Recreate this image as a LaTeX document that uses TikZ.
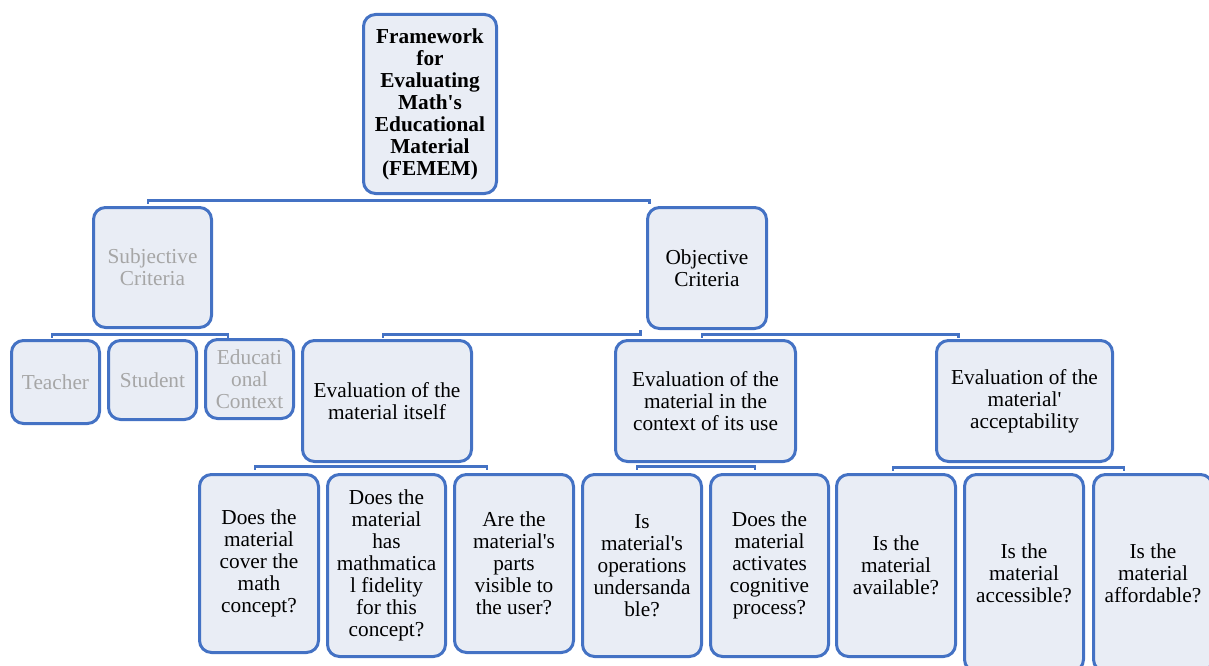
\documentclass[tikz,border=0pt]{standalone}
\usepackage{fontspec}
\setmainfont{Liberation Serif}[Ligatures=TeXOff]
\usepackage{tikz}
\usetikzlibrary{calc}
\definecolor{boxblue}{HTML}{4472C4}
\definecolor{boxfill}{HTML}{E9EDF5}
\definecolor{subgray}{HTML}{A6A6A6}
\tikzset{
  crit/.style={draw=boxblue, fill=boxfill, line width=3pt, rounded corners=12pt,
    align=center, inner sep=2pt, font=\fontsize{21.3}{22}\selectfont},
  conn/.style={draw=boxblue, line width=2.5pt},
}

\begin{document}
\begin{tikzpicture}[x=1pt,y=-1pt]
			\useasboundingbox (0,0) rectangle (1209,666);
			\clip (0,0) rectangle (1209,666);
			% top
			\node[crit, minimum width=133pt, minimum height=179pt, font=\fontsize{21.3}{22}\selectfont\bfseries] (femem) at (430,104)
			  {Framework\\for\\Evaluating\\Math's\\Educational\\Material\\(FEMEM)};
			% criteria
			\node[crit, text=subgray, minimum width=118pt, minimum height=120pt] (subj) at (152.5,267.5) {Subjective\\Criteria};
			\node[crit, minimum width=119pt, minimum height=121pt] (obj) at (707,268) {Objective\\Criteria};
			\node[crit, text=subgray, minimum width=88pt, minimum height=83pt] (teacher) at (55.5,382) {Teacher};
			\node[crit, text=subgray, minimum width=88pt, minimum height=79pt] (student) at (152.5,380) {Student};
			\node[crit, text=subgray, minimum width=88pt, minimum height=79pt] (educ) at (249.5,379) {Educati\\onal\\Context};
			% evaluations
			\node[crit, minimum width=169pt, minimum height=121pt] (itself) at (387,401) {Evaluation of the\\material itself};
			\node[crit, minimum width=180pt, minimum height=121pt] (context) at (705.5,401) {Evaluation of the\\material in the\\context of its use};
			\node[crit, minimum width=176pt, minimum height=121pt] (accept) at (1024.5,401) {Evaluation of the\\material'\\acceptability};
			% questions
			\node[crit, minimum width=119pt, minimum height=178pt] (q1) at (259,563.5) {Does the\\material\\cover the\\math\\concept?};
			\node[crit, minimum width=118pt, minimum height=182pt] (q2) at (386.5,565.5) {Does the\\material\\has\\mathmatica\\l fidelity\\for this\\concept?};
			\node[crit, minimum width=119pt, minimum height=178pt] (q3) at (514,563.5) {Are the\\material's\\parts\\visible to\\the user?};
			\node[crit, minimum width=119pt, minimum height=182pt] (q4) at (642,565.5) {Is\\material's\\operations\\undersanda\\ble?};
			\node[crit, minimum width=118pt, minimum height=182pt] (q5) at (769.5,565.5) {Does the\\material\\activates\\cognitive\\process?};
			\node[crit, minimum width=119pt, minimum height=182pt] (q6) at (896,565.5) {Is the\\material\\available?};
			\node[crit, minimum width=119pt, minimum height=197pt] (q7) at (1024,573) {Is the\\material\\accessible?};
			\node[crit, minimum width=119pt, minimum height=197pt] (q8) at (1153,573) {Is the\\material\\affordable?};
			% connectors
			\draw[conn] ($(subj.north |- femem.south)+(-4.5,8.5)$) -- ++(0,-3) -| ($(obj.north west |- femem.south)+(3.5,8.5)$);
			\draw[conn] ($(teacher.north |- subj.south)+(-3.5,8.5)$) -- ++(0,-3) -| ($(educ.north |- subj.south)+(-21.5,8.5)$);
			\draw[conn] ($(itself.north |- obj.south)+(-4,7.5)$) -- ++(0,-3) -| ($(obj.south west)+(-5.5,0)$);
			\draw[conn] ($(context.north |- obj.south)+(-3.5,7.5)$) -- ++(0,-3) -| ($(accept.north west |- obj.south)+(23.5,7.5)$);
			\draw[conn] ($(q1.north |- itself.south)+(-4,6.5)$) -- ++(0,-3) -| ($(q3.north |- itself.south)+(-27,6.5)$);
			\draw[conn] ($(q4.north |- context.south)+(-5,6.5)$) -- ++(0,-3) -| ($(q5.north |- context.south)+(-14.5,6.5)$);
			\draw[conn] ($(q6.north |- accept.south)+(-3,7.5)$) -- ++(0,-3) -| ($(q8.north |- accept.south)+(-29,7.5)$);
		\end{tikzpicture}
\end{document}
